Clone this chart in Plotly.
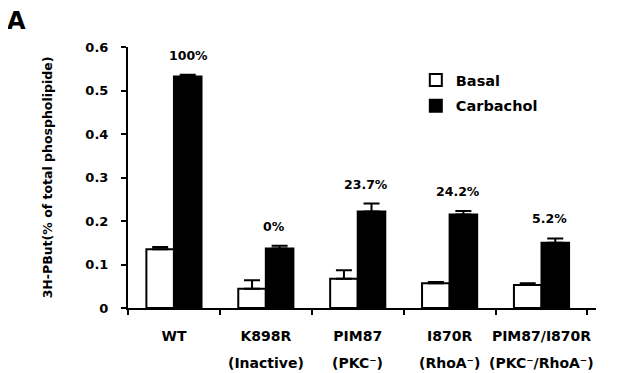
import plotly.graph_objects as go

categories = ["WT", "K898R", "PIM87", "I870R", "PIM87/I870R"]
subtitles = ["", "(Inactive)", "(PKC⁻)", "(RhoA⁻)", "(PKC⁻/RhoA⁻)"]
basal = [0.135, 0.044, 0.067, 0.057, 0.053]
basal_err = [0.005, 0.020, 0.020, 0.003, 0.004]
carbachol = [0.532, 0.137, 0.222, 0.215, 0.150]
carbachol_err = [0.004, 0.006, 0.018, 0.008, 0.010]
pct_labels = ["100%", "0%", "23.7%", "24.2%", "5.2%"]

FONT = "DejaVu Sans"
# page body has an 8px margin; size the figure so the plot sits where the reference has it
W, H = 610, 365

fig = go.Figure()
fig.add_trace(go.Bar(
    name="Basal", x=categories, y=basal, legendgroup="b",
    marker=dict(color="white", line=dict(color="black", width=2)),
    error_y=dict(type="data", array=basal_err, arrayminus=[0]*5, symmetric=False,
                 color="black", thickness=2, width=8),
))
fig.add_trace(go.Bar(
    name="Carbachol", x=categories, y=carbachol, legendgroup="c",
    marker=dict(color="black", line=dict(color="black", width=2)),
    error_y=dict(type="data", array=carbachol_err, arrayminus=[0]*5, symmetric=False,
                 color="black", thickness=2, width=8),
))

for i, (cat, v, e, t) in enumerate(zip(categories, carbachol, carbachol_err, pct_labels)):
    fig.add_annotation(x=cat, y=v + e, text=t, showarrow=False, yanchor="bottom",
                       xshift=15 if i == 0 else 8, yshift=10,
                       font=dict(family=FONT, size=12.5, color="black", weight="bold"))

for cat, s in zip(categories, subtitles):
    if s:
        fig.add_annotation(x=cat, y=0, text=s, showarrow=False, yanchor="middle",
                           yshift=-55,
                           font=dict(family=FONT, size=14, color="black", weight="bold"))

fig.add_annotation(xref="paper", yref="paper", x=-0.262, y=1.16, text="A",
                   showarrow=False, xanchor="left", yanchor="top",
                   font=dict(family=FONT, size=24, color="black", weight="bold"))

fig.update_layout(
    width=W, height=H,
    margin=dict(l=120, r=22, t=39, b=65),
    paper_bgcolor="white", plot_bgcolor="white",
    barmode="group", bargap=0.4, bargroupgap=0,
    font=dict(family=FONT, color="black", weight="bold"),
    showlegend=True,
    legend=dict(x=0.615, y=0.935, xanchor="left", yanchor="top",
                font=dict(family=FONT, size=14.5, color="black", weight="bold"),
                tracegroupgap=4, bgcolor="rgba(0,0,0,0)"),
    xaxis=dict(showline=True, linecolor="black", linewidth=2, ticks="outside",
               tickson="boundaries", ticklen=5, tickwidth=2, tickcolor="black",
               showgrid=False, zeroline=False, tickangle=0, automargin=False,
               ticklabelstandoff=14,
               tickfont=dict(family=FONT, size=14, color="black", weight="bold")),
    yaxis=dict(range=[0, 0.6], tickvals=[0, 0.1, 0.2, 0.3, 0.4, 0.5, 0.6],
               ticktext=["0", "0.1", "0.2", "0.3", "0.4", "0.5", "0.6"],
               showline=True, linecolor="black", linewidth=2, ticks="outside",
               ticklen=5, tickwidth=2, tickcolor="black", showgrid=False, zeroline=False,
               ticklabelstandoff=10, automargin=False,
               tickfont=dict(family=FONT, size=13, color="black", weight="bold"),
               title=dict(text="3H-PBut(% of total phospholipide)", standoff=30,
                          font=dict(family=FONT, size=12.5, color="black", weight="bold"))),
)

fig.write_html("out.html")
